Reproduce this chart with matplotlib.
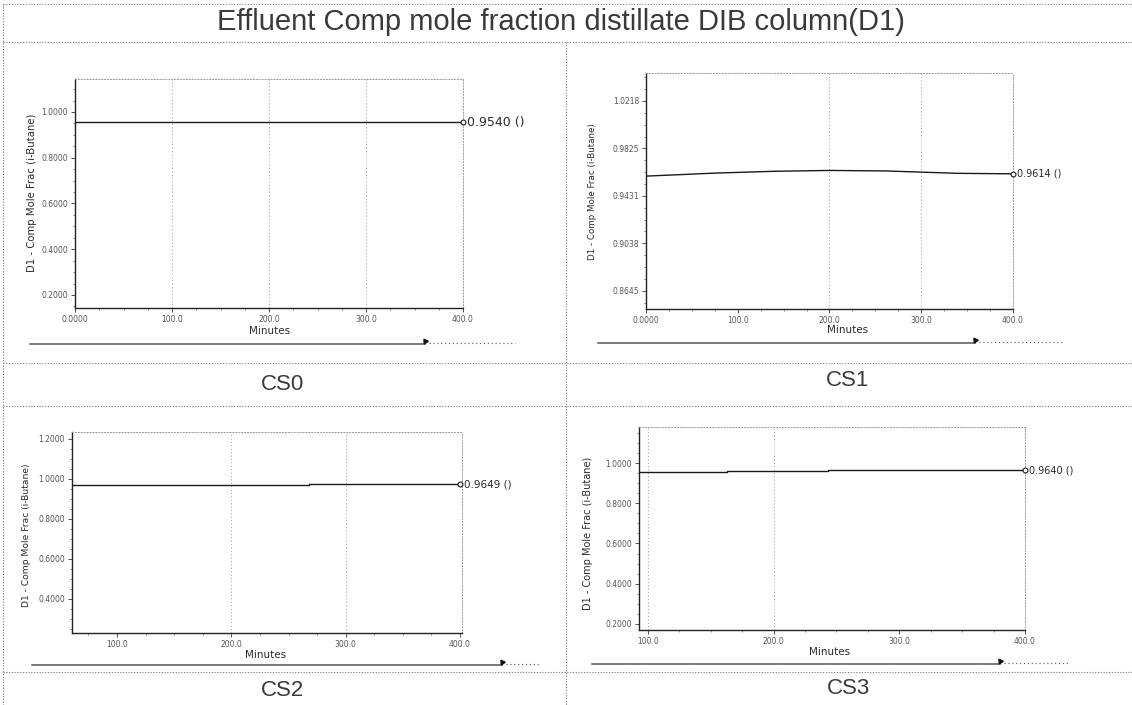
import matplotlib
matplotlib.use('Agg')
import matplotlib.pyplot as plt
from matplotlib.lines import Line2D
from matplotlib.ticker import FixedLocator, AutoMinorLocator
from matplotlib import font_manager

# ---------------- data ----------------
title = "Effluent Comp mole fraction distillate DIB column(D1)"
case_names = ["CS0", "CS1", "CS2", "CS3"]
y_label = "D1 - Comp Mole Frac (i-Butane)"
x_label = "Minutes"

cs0_t = [0, 75, 150, 225, 232, 320, 400]
cs0_y = [0.9565, 0.9550, 0.9550, 0.9560, 0.9545, 0.9545, 0.9540]
cs0_yticks = [0.2, 0.4, 0.6, 0.8, 1.0]
cs0_yticklabels = ["0.2000", "0.4000", "0.6000", "0.8000", "1.0000"]
cs0_xticks = [0, 100, 200, 300, 400]
cs0_xticklabels = ["0.0000", "100.0", "200.0", "300.0", "400.0"]
cs0_end = "0.9540 ()"

cs1_t = [0, 40, 75, 140, 200, 260, 300, 340, 400]
cs1_y = [0.9595, 0.9608, 0.9620, 0.9635, 0.9642, 0.9638, 0.9628, 0.9618, 0.9614]
cs1_yticks = [0.8645, 0.9038, 0.9431, 0.9825, 1.0218]
cs1_yticklabels = ["0.8645", "0.9038", "0.9431", "0.9825", "1.0218"]
cs1_xticks = [0, 100, 200, 300, 400]
cs1_xticklabels = ["0.0000", "100.0", "200.0", "300.0", "400.0"]
cs1_end = "0.9614 ()"

cs2_t = [61, 155, 268, 400]
cs2_y = [0.9700, 0.9720, 0.9735, 0.9735]
cs2_yticks = [0.4, 0.6, 0.8, 1.0, 1.2]
cs2_yticklabels = ["0.4000", "0.6000", "0.8000", "1.0000", "1.2000"]
cs2_xticks = [100, 200, 300, 400]
cs2_xticklabels = ["100.0", "200.0", "300.0", "400.0"]
cs2_end = "0.9649 ()"

cs3_t = [93, 163, 203, 243, 400]
cs3_y = [0.9560, 0.9590, 0.9620, 0.9640, 0.9640]
cs3_yticks = [0.2, 0.4, 0.6, 0.8, 1.0]
cs3_yticklabels = ["0.2000", "0.4000", "0.6000", "0.8000", "1.0000"]
cs3_xticks = [100, 200, 300, 400]
cs3_xticklabels = ["100.0", "200.0", "300.0", "400.0"]
cs3_end = "0.9640 ()"

# ---------------- fonts ----------------
def has_font(name):
    try:
        font_manager.findfont(font_manager.FontProperties(family=name),
                              fallback_to_default=False)
        return True
    except Exception:
        return False

if has_font("Liberation Sans Narrow"):
    TITLE_FONT, TITLE_FS, CS_FS = "Liberation Sans Narrow", 25, 19
else:
    TITLE_FONT, TITLE_FS, CS_FS = "Liberation Sans", 21, 16

# ---------------- figure ----------------
W, H = 1132, 705
fig = plt.figure(figsize=(W / 100, H / 100), dpi=100)
fig.patch.set_facecolor("white")
GRID = "#777777"
TXT = "#2a2a2a"


def fline(x0, y0, x1, y1, **kw):
    fig.add_artist(Line2D([x0 / W, x1 / W], [1 - y0 / H, 1 - y1 / H],
                          transform=fig.transFigure, **kw))


def ftext(x, y, s, **kw):
    fig.text(x / W, 1 - y / H, s, **kw)


# table frame (dotted scan lines)
tbl = dict(color=GRID, lw=0.8, ls=(0, (1, 1.5)))
fline(3, 4, 1132, 4, **tbl)
fline(3, 42, 1132, 42, **tbl)
fline(3, 363, 1132, 363, **tbl)
fline(3, 406, 1132, 406, **tbl)
fline(3, 672, 1132, 672, **tbl)
fline(3, 4, 3, 705, **tbl)
fline(566, 42, 566, 705, **tbl)

ftext(561, 22, title, ha="center", va="center", fontsize=TITLE_FS,
      family=TITLE_FONT, color="#3a3a3a")

for name, (x, y) in zip(case_names, [(283, 384), (848, 381), (283, 690), (848, 688)]):
    ftext(x, y, name, ha="center", va="center", fontsize=CS_FS,
          family=TITLE_FONT, color="#3a3a3a")

panels = [
    dict(box=(75, 79, 463, 308), t=cs0_t, y=cs0_y, ylim=(0.143, 1.144), xlim=(0, 400),
         yt=cs0_yticks, ytl=cs0_yticklabels, xt=cs0_xticks, xtl=cs0_xticklabels,
         end=cs0_end, endfs=9, ylab=(32, 193, 7.3), xlab=(270, 331),
         vgrid=[100, 200, 300], step=True,
         bar=(30, 425, 344, 515)),
    dict(box=(646, 73, 1013, 309), t=cs1_t, y=cs1_y, ylim=(0.8493, 1.0450), xlim=(0, 400),
         yt=cs1_yticks, ytl=cs1_yticklabels, xt=cs1_xticks, xtl=cs1_xticklabels,
         end=cs1_end, endfs=7, ylab=(593, 192, 6.3), xlab=(848, 330),
         vgrid=[200, 300], step=False,
         bar=(598, 975, 343, 1063)),
    dict(box=(72, 432, 462, 633), t=cs2_t, y=cs2_y, ylim=(0.23, 1.235), xlim=(60.6, 401.7),
         yt=cs2_yticks, ytl=cs2_yticklabels, xt=cs2_xticks, xtl=cs2_xticklabels,
         end=cs2_end, endfs=7.5, ylab=(27, 535, 6.6), xlab=(266, 655),
         vgrid=[200, 300], step=True,
         bar=(32, 502, 665, 540)),
    dict(box=(639, 427, 1025, 630), t=cs3_t, y=cs3_y, ylim=(0.170, 1.179), xlim=(93, 400),
         yt=cs3_yticks, ytl=cs3_yticklabels, xt=cs3_xticks, xtl=cs3_xticklabels,
         end=cs3_end, endfs=7, ylab=(588, 533, 7.0), xlab=(830, 652),
         vgrid=[100, 200], step=True,
         bar=(592, 1000, 664, 1070)),
]

for p in panels:
    l, t, r, b = p["box"]
    ax = fig.add_axes([l / W, 1 - b / H, (r - l) / W, (b - t) / H])
    ax.set_facecolor("none")
    ax.set_xlim(*p["xlim"])
    ax.set_ylim(*p["ylim"])
    for v in p["vgrid"]:
        ax.axvline(v, color="#999999", lw=0.7, ls=(0, (1, 2.5)), zorder=0)
    ds = "steps-post" if p["step"] else "default"
    ax.plot(p["t"], p["y"], color="#1a1a1a", lw=1.0, drawstyle=ds, zorder=3)
    ax.plot([p["t"][-1]], [p["y"][-1]], marker="o", ms=3.5, mfc="white",
            mec="#1a1a1a", mew=0.8, clip_on=False, zorder=4)
    ax.annotate(p["end"], (p["t"][-1], p["y"][-1]), xytext=(3, 0),
                textcoords="offset points", va="center", ha="left",
                fontsize=p["endfs"], color=TXT, annotation_clip=False)

    ax.yaxis.set_major_locator(FixedLocator(p["yt"]))
    ax.set_yticklabels(p["ytl"])
    ax.xaxis.set_major_locator(FixedLocator(p["xt"]))
    ax.set_xticklabels(p["xtl"])
    ax.xaxis.set_minor_locator(AutoMinorLocator(4))
    ax.yaxis.set_minor_locator(AutoMinorLocator(4))
    ax.tick_params(axis="both", which="major", labelsize=5.5, colors="#333333",
                   length=3, width=0.6, pad=2, labelcolor="#555555")
    ax.tick_params(axis="both", which="minor", length=1.5, width=0.5, colors="#555555")

    for s in ("left", "bottom"):
        ax.spines[s].set_color("#222222")
        ax.spines[s].set_linewidth(1.0)
    for s in ("top", "right"):
        ax.spines[s].set_color("#999999")
        ax.spines[s].set_linewidth(0.7)
        ax.spines[s].set_linestyle((0, (1, 2)))

    lx, ly, lfs = p["ylab"]
    ftext(lx, ly, y_label, rotation=90, ha="center", va="center",
          fontsize=lfs, color=TXT)
    xx, xy = p["xlab"]
    ftext(xx, xy, x_label, ha="center", va="center", fontsize=7.5,
          color=TXT)

    # scrollbar-like strip under each chart
    x0, x1, yb, x2 = p["bar"]
    fline(x0, yb, x1, yb, color="#555555", lw=1.1)
    fig.add_artist(Line2D([x1 / W], [1 - (yb - 3) / H], marker=(3, 0, 35),
                          ms=4, color="#111111", transform=fig.transFigure))
    fline(x1 + 4, yb - 1, x2, yb - 1, color="#555555", lw=0.8, ls=(0, (1, 2.5)))

fig.savefig("out.png", dpi=100)
